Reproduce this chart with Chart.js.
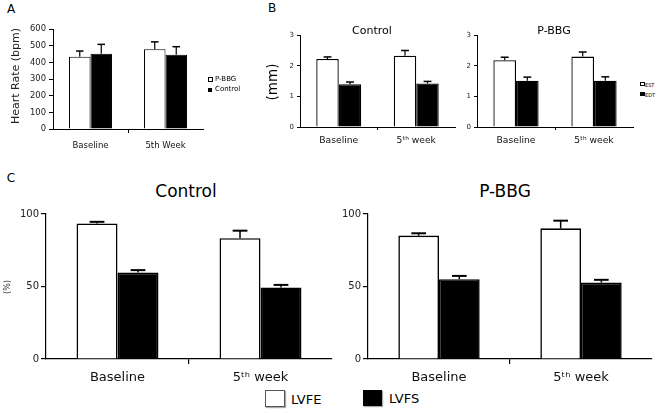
<!DOCTYPE html>
<html>
<head>
<meta charset="utf-8">
<script src="https://cdn.jsdelivr.net/npm/chart.js@4.4.1/dist/chart.umd.min.js"></script>
<style>
body { margin: 0; background: #fff; }
#fig { position: relative; width: 660px; height: 413px; overflow: hidden; background: #fff;
       font-family: "DejaVu Sans", Verdana, sans-serif; color: #000; }
#fig canvas { position: absolute; }
.lbl { position: absolute; white-space: nowrap; line-height: 1; transform: translate(-50%, -50%); }
.rot { transform: translate(-50%, -50%) rotate(-90deg); }
.leg { position: absolute; white-space: nowrap; line-height: 1; transform: translateY(-50%); }
.box { position: absolute; box-sizing: border-box; border: 1px solid #000; }
</style>
</head>
<body>
<div id="fig">
  <canvas id="chartA"></canvas>
  <canvas id="chartB1"></canvas>
  <canvas id="chartB2"></canvas>
  <canvas id="chartC1"></canvas>
  <canvas id="chartC2"></canvas>

  <div class="lbl" style="left:11px;top:9px;font-size:12px;">A</div>
  <div class="lbl" style="left:272px;top:8px;font-size:12px;">B</div>
  <div class="lbl" style="left:11px;top:178px;font-size:12px;">C</div>

  <!-- panel A -->
  <div class="lbl rot" style="left:15px;top:76px;font-size:11px;color:#222;">Heart Rate (bpm)</div>
  <div class="box" style="left:208px;top:77px;width:5px;height:5px;background:#fff;"></div>
  <div class="leg" style="left:215px;top:79px;font-size:7px;">P-BBG</div>
  <div class="box" style="left:208px;top:88px;width:4px;height:4px;background:#000;"></div>
  <div class="leg" style="left:215px;top:89px;font-size:7px;">Control</div>

  <!-- panel B -->
  <div class="lbl rot" style="left:273px;top:82px;font-size:13.5px;">(mm)</div>
  <div class="lbl" style="left:372px;top:30px;font-size:11px;">Control</div>
  <div class="lbl" style="left:554px;top:30px;font-size:11px;">P-BBG</div>
  <div class="box" style="left:640px;top:82px;width:5px;height:4px;background:#fff;"></div>
  <div class="leg" style="left:645px;top:84.5px;font-size:5px;">EST</div>
  <div class="box" style="left:640px;top:92px;width:5px;height:4px;background:#000;"></div>
  <div class="leg" style="left:645px;top:94.5px;font-size:5px;">EDT</div>

  <!-- panel C -->
  <div class="lbl rot" style="left:8px;top:287px;font-size:8px;color:#333;">(%)</div>
  <div class="lbl" style="left:186px;top:191px;font-size:17px;">Control</div>
  <div class="lbl" style="left:505px;top:191px;font-size:17px;">P-BBG</div>
  <div class="box" style="left:265px;top:390px;width:20px;height:17px;background:#fff;border-color:#555;box-shadow:1px 1px 1px #aaa;"></div>
  <div class="leg" style="left:291px;top:399px;font-size:13px;">LVFE</div>
  <div class="box" style="left:363px;top:390px;width:19px;height:16px;background:#000;box-shadow:1px 1px 1px #aaa;"></div>
  <div class="leg" style="left:389px;top:398px;font-size:13px;">LVFS</div>
</div>

<script>
// A - heart rate
const hrLabels = ['Baseline', '5th Week'];
const hrPbbg = [434, 478];
const hrPbbgErr = [34, 45];
const hrControl = [452, 446];
const hrControlErr = [56, 48];
const hrTicks = [0, 100, 200, 300, 400, 500, 600];

// B - EST / EDT (mm)
const dimLabels = ['Baseline', '5ᵗʰ week'];
const ctrlEST = [2.22, 2.33];
const ctrlESTErr = [0.07, 0.17];
const ctrlEDT = [1.40, 1.42];
const ctrlEDTErr = [0.07, 0.07];
const pbbgEST = [2.18, 2.30];
const pbbgESTErr = [0.10, 0.15];
const pbbgEDT = [1.51, 1.51];
const pbbgEDTErr = [0.12, 0.13];
const dimTicks = [0, 1, 2, 3];

// C - LVFE / LVFS (%)
const fxLabels = ['Baseline', '5ᵗʰ week'];
const ctrlLVFE = [93.5, 83.3];
const ctrlLVFEErr = [1.1, 5.2];
const ctrlLVFS = [59.6, 49.3];
const ctrlLVFSErr = [1.7, 1.8];
const pbbgLVFE = [85.1, 90.1];
const pbbgLVFEErr = [1.6, 5.3];
const pbbgLVFS = [55.0, 52.7];
const pbbgLVFSErr = [2.3, 1.9];
const fxTicks = [0, 50, 100];

const FONT = '"DejaVu Sans", Verdana, sans-serif';

// draws only the upper half of each error bar (line + cap)
const errorBars = {
    id: 'errorBars',
    afterDatasetsDraw(chart, args, opts) {
        const ctx = chart.ctx;
        const y = chart.scales.y;
        ctx.save();
        ctx.strokeStyle = '#000';
        chart.data.datasets.forEach((ds, i) => {
            const meta = chart.getDatasetMeta(i);
            meta.data.forEach((bar, j) => {
                const top = y.getPixelForValue(ds.data[j] + ds.err[j]);
                const half = bar.width * opts.cap / 2;
                ctx.lineWidth = opts.width;
                ctx.beginPath();
                ctx.moveTo(bar.x, bar.y);
                ctx.lineTo(bar.x, top);
                ctx.stroke();
                ctx.lineWidth = opts.capWidth;
                ctx.beginPath();
                ctx.moveTo(bar.x - half, top);
                ctx.lineTo(bar.x + half, top);
                ctx.stroke();
            });
        });
        ctx.restore();
    }
};

// area = [left, top, right, bottom] of the plot area on the page
// m = [top, right, bottom, left] room around it for ticks
function panel(id, area, m, labels, sets, s) {
    const cv = document.getElementById(id);
    const w = Math.round(area[2] - area[0] + m[1] + m[3]);
    const h = Math.round(area[3] - area[1] + m[0] + m[2]);
    cv.width = w; cv.height = h;
    cv.style.width = w + 'px'; cv.style.height = h + 'px';
    cv.style.left = (area[0] - m[3]) + 'px';
    cv.style.top = (area[1] - m[0]) + 'px';

    const datasets = sets.map((d, i) => ({
        data: d[0],
        err: d[1],
        backgroundColor: i === 0 ? '#fff' : '#000',
        borderColor: '#000',
        borderWidth: s.bw,
        barPercentage: 1,
        categoryPercentage: s.cp
    }));

    return new Chart(cv, {
        type: 'bar',
        data: { labels: labels, datasets: datasets },
        options: {
            responsive: false,
            animation: false,
            layout: { padding: { top: m[0], right: m[1], bottom: 0, left: 0 } },
            plugins: {
                legend: { display: false },
                tooltip: { enabled: false },
                errorBars: { cap: s.cap, width: s.ew, capWidth: s.cw }
            },
            scales: {
                x: {
                    grid: {
                        offset: true,
                        drawOnChartArea: false,
                        tickLength: s.xtl,
                        lineWidth: s.lw,
                        color: c => c.index === 1 ? '#000' : 'rgba(0,0,0,0)'
                    },
                    border: { color: '#000', width: s.lw },
                    ticks: { color: '#111', padding: s.xpad, font: { family: FONT, size: s.xfs } },
                    afterFit: sc => { sc.height = m[2]; }
                },
                y: {
                    min: 0,
                    max: s.ticks[s.ticks.length - 1],
                    afterBuildTicks: sc => { sc.ticks = s.ticks.map(v => ({ value: v })); },
                    grid: { drawOnChartArea: false, tickLength: s.ytl, lineWidth: s.lw, color: '#000' },
                    border: { color: '#000', width: s.lw },
                    ticks: { color: '#222', padding: s.ypad, font: { family: FONT, size: s.yfs } },
                    afterFit: sc => { sc.width = m[3]; }
                }
            }
        },
        plugins: [errorBars]
    });
}

const styleA = { bw: 1, cp: 0.573, cap: 0.35, ew: 1.2, cw: 1.5, lw: 1, xtl: 4, ytl: 4, xpad: 8, ypad: 3, xfs: 8.5, yfs: 8.4, ticks: hrTicks };
const styleB = { bw: 1.3, cp: 0.58, cap: 0.35, ew: 1.2, cw: 1.5, lw: 1, xtl: 3, ytl: 3, xpad: 5, ypad: 3, xfs: 9.2, yfs: 7, ticks: dimTicks };
const styleC = { bw: 1.6, cp: 0.573, cap: 0.36, ew: 1.5, cw: 2, lw: 1.2, xtl: 5, ytl: 5, xpad: 6, ypad: 2, xfs: 13, yfs: 10, ticks: fxTicks };

panel('chartA', [53, 29, 203, 129], [8, 6, 24, 36], hrLabels,
    [[hrPbbg, hrPbbgErr], [hrControl, hrControlErr]], styleA);
panel('chartB1', [300, 34, 455, 126.7], [6, 4, 22, 14], dimLabels,
    [[ctrlEST, ctrlESTErr], [ctrlEDT, ctrlEDTErr]], styleB);
panel('chartB2', [476.7, 34, 633, 126.7], [6, 4, 22, 14], dimLabels,
    [[pbbgEST, pbbgESTErr], [pbbgEDT, pbbgEDTErr]], styleB);
panel('chartC1', [46, 214, 332, 359.3], [8, 4, 30, 30], fxLabels,
    [[ctrlLVFE, ctrlLVFEErr], [ctrlLVFS, ctrlLVFSErr]], styleC);
panel('chartC2', [368.3, 214, 652, 359.3], [8, 4, 30, 30], fxLabels,
    [[pbbgLVFE, pbbgLVFEErr], [pbbgLVFS, pbbgLVFSErr]], styleC);
</script>
</body>
</html>
